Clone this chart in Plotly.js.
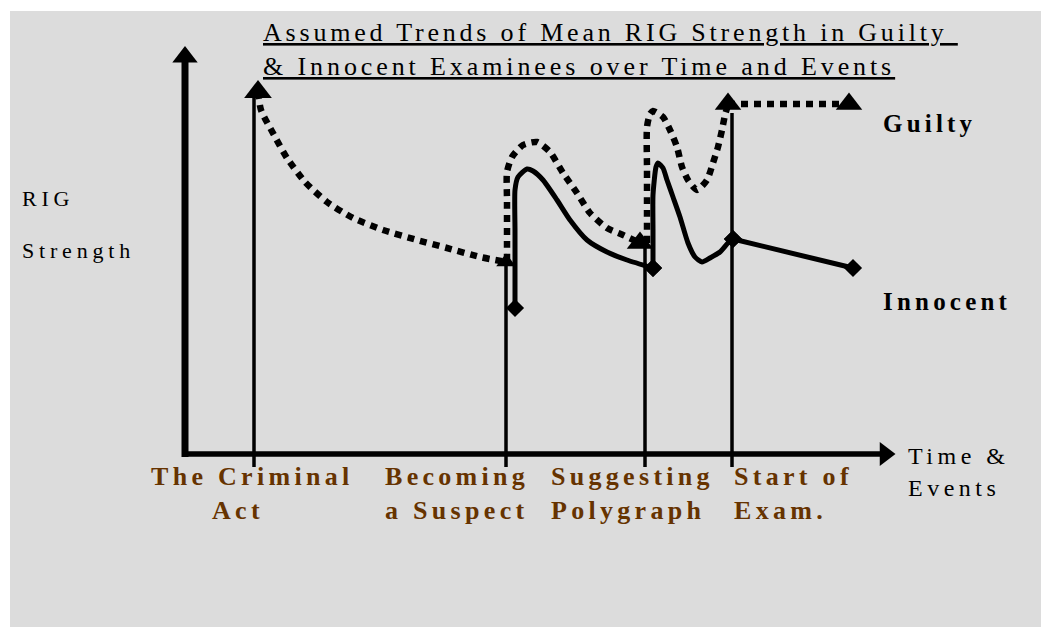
<!DOCTYPE html>
<html>
<head>
<meta charset="utf-8">
<script src="https://cdn.plot.ly/plotly-3.0.1.min.js"></script>
<style>html,body{margin:0;padding:0;background:#fff;}#chart{width:1041px;height:627px;}</style>
</head>
<body>
<div id="chart"></div>
<script>
// ---------- DATA (time units on x, RIG strength units on y) ----------
// Guilty examinees (dotted) – four strokes
const guiltyX1 = [73, 76, 89, 102, 120, 142, 168, 198, 232, 262, 295, 321];
const guiltyY1 = [362, 344, 319, 296, 272, 252, 236, 224, 214, 206, 197, 192];
const guiltyX2 = [322, 322, 322, 322, 327, 338, 352, 365, 378, 392, 405, 422, 438, 455];
const guiltyY2 = [193, 224, 254, 282, 297, 309, 312, 302, 281, 261, 241, 226, 219, 211];
const guiltyX3 = [462, 462, 462, 462, 465, 468, 478, 485, 492, 497, 503, 512, 522, 528, 533, 537, 540, 543];
const guiltyY3 = [211, 244, 284, 327, 340, 343, 337, 324, 307, 287, 274, 264, 274, 291, 307, 324, 339, 349];
const guiltyX4 = [543, 664];
const guiltyY4 = [350, 350];

// Innocent examinees (solid) – three strokes
const innocentX1 = [330, 330, 330, 330, 333, 342, 348, 358, 372, 385, 402, 422, 442, 468];
const innocentY1 = [146, 184, 224, 264, 277, 285, 283, 274, 254, 234, 214, 202, 194, 186];
const innocentX2 = [468, 468, 468, 471, 473, 478, 482, 488, 495, 503, 510, 517, 525, 535, 543, 548];
const innocentY2 = [186, 224, 259, 287, 291, 286, 274, 257, 237, 211, 197, 192, 196, 202, 211, 215];
const innocentX3 = [548, 668];
const innocentY3 = [215, 186];

// Events on the time axis
const eventX = [69, 321, 460, 547];
const eventTop = [362, 192, 211, 341];
const eventBottom = -13;
const eventLabels = ['The Criminal', 'Act', 'Becoming', 'a Suspect', 'Suggesting', 'Polygraph', 'Start of', 'Exam.'];

// Axis extents
const axisXEnd = 695, axisXArrow = 700;
const axisYEnd = 394, axisYArrow = 397;

const titleLines = ['Assumed Trends of Mean RIG Strength in Guilty ', '& Innocent Examinees over Time and Events'];
const yLabel = ['RIG', 'Strength'];
const xLabel = ['Time &', 'Events'];
const seriesNames = ['Guilty', 'Innocent'];

// ---------- BUILD ----------
const W = 1041, H = 627;
const SERIF = '"Liberation Serif", "Times New Roman", serif';
const BROWN = '#663300';
const traces = [];

// event vertical lines
const evx = [], evy = [];
eventX.forEach((x, i) => { evx.push(x, x, null); evy.push(eventBottom, eventTop[i], null); });
traces.push({x: evx, y: evy, mode: 'lines', line: {color: '#000', width: 3.5}, hoverinfo: 'skip'});

// axes
traces.push({x: [0, 0], y: [-3, axisYEnd], mode: 'lines', line: {color: '#000', width: 7}, hoverinfo: 'skip'});
traces.push({x: [-3, axisXEnd], y: [0, 0], mode: 'lines', line: {color: '#000', width: 5.5}, hoverinfo: 'skip'});
traces.push({x: [0], y: [axisYArrow], mode: 'markers', marker: {symbol: 'triangle-up', size: 22, color: '#000', opacity: 1}, hoverinfo: 'skip'});
traces.push({x: [axisXArrow], y: [0], mode: 'markers', marker: {symbol: 'triangle-right', size: 21, color: '#000', opacity: 1}, hoverinfo: 'skip'});

// guilty strokes
const gStrokes = [[guiltyX1, guiltyY1, [24, 17]], [guiltyX2, guiltyY2, [0, 23]], [guiltyX3, guiltyY3, [0, 0]], [guiltyX4, guiltyY4, [23, 23]]];
gStrokes.forEach(([xs, ys]) => {
  traces.push({x: xs, y: ys, mode: 'lines', line: {color: '#000', width: 6.5, dash: '7px,6px', shape: xs.length > 2 ? 'spline' : 'linear', smoothing: 0.6}, hoverinfo: 'skip'});
});
// guilty arrowheads at stroke ends
const gax = [], gay = [], gas = [];
gStrokes.forEach(([xs, ys, ends]) => {
  if (ends[0]) { gax.push(xs[0]); gay.push(ys[0]); gas.push(ends[0]); }
  if (ends[1]) { gax.push(xs[xs.length - 1]); gay.push(ys[ys.length - 1]); gas.push(ends[1]); }
});
traces.push({x: gax, y: gay, mode: 'markers', marker: {symbol: 'triangle-up', size: gas, color: '#000', opacity: 1, line: {width: 0}}, hoverinfo: 'skip'});

// innocent strokes
const iStrokes = [[innocentX1, innocentY1], [innocentX2, innocentY2], [innocentX3, innocentY3]];
iStrokes.forEach(([xs, ys]) => {
  traces.push({x: xs, y: ys, mode: 'lines', line: {color: '#000', width: 5, shape: xs.length > 2 ? 'spline' : 'linear', smoothing: 0.6}, hoverinfo: 'skip'});
});
const dx = [], dy = [];
iStrokes.forEach(([xs, ys]) => { dx.push(xs[0], xs[xs.length - 1]); dy.push(ys[0], ys[ys.length - 1]); });
traces.push({x: dx, y: dy, mode: 'markers', marker: {symbol: 'diamond', size: 14, color: '#000', opacity: 1}, hoverinfo: 'skip'});

// text helper (pixel placement)
function txt(s, px, py, opt) {
  opt = opt || {};
  const ls = opt.ls || 0;
  return {
    text: '<span style="letter-spacing:' + ls + 'px">' + s + '</span>',
    x: px / W, y: 1 - py / H, xref: 'paper', yref: 'paper',
    xanchor: opt.xa || 'left', yanchor: 'middle', align: opt.xa === 'center' ? 'center' : 'left',
    showarrow: false,
    font: {family: SERIF, size: opt.size || 22, color: opt.color || '#000', weight: opt.bold ? 700 : 400, lineposition: opt.ul ? 'under' : 'none'}
  };
}

const lbl = {size: 26, ls: 4.3, bold: true, color: BROWN};
const ann = [
  txt(titleLines[0], 261, 33, {size: 26, ls: 3.8, ul: true}),
  txt(titleLines[1], 261, 66, {size: 26, ls: 3.9, ul: true}),
  txt(yLabel[0], 20, 198, {size: 22, ls: 4.8}),
  txt(yLabel[1], 20, 250, {size: 22, ls: 4.8}),
  txt(xLabel[0], 906, 456, {size: 24, ls: 4.5}),
  txt(xLabel[1], 906, 488, {size: 24, ls: 4.5}),
  txt(seriesNames[0], 881, 124, {size: 25, ls: 4.2, bold: true}),
  txt(seriesNames[1], 881, 302, {size: 25, ls: 4.2, bold: true}),
  txt(eventLabels[0], 252, 476, Object.assign({xa: 'center'}, lbl)),
  txt(eventLabels[1], 238, 510, Object.assign({xa: 'center'}, lbl)),
  txt(eventLabels[2], 383, 476, lbl),
  txt(eventLabels[3], 383, 510, lbl),
  txt(eventLabels[4], 549, 476, lbl),
  txt(eventLabels[5], 549, 510, lbl),
  txt(eventLabels[6], 732, 476, lbl),
  txt(eventLabels[7], 732, 510, lbl)
];

const layout = {
  width: W, height: H,
  margin: {l: 0, r: 0, t: 0, b: 0, pad: 0},
  paper_bgcolor: '#ffffff', plot_bgcolor: 'rgba(0,0,0,0)',
  showlegend: false,
  xaxis: {range: [-185, W - 185], visible: false, fixedrange: true},
  yaxis: {range: [454 - H, 454], visible: false, fixedrange: true},
  shapes: [{type: 'rect', xref: 'paper', yref: 'paper', x0: 10 / W, x1: 1, y0: 0, y1: 1 - 11 / H, fillcolor: '#dcdcdc', line: {width: 0}, layer: 'below'}],
  annotations: ann
};

Plotly.newPlot('chart', traces, layout, {staticPlot: true, displayModeBar: false});
</script>
</body>
</html>
